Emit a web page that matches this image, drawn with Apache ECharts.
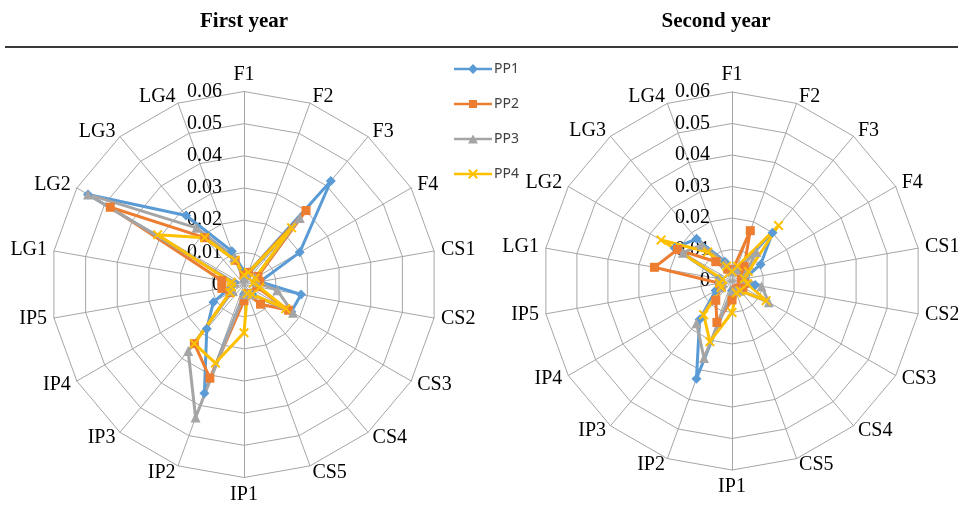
<!DOCTYPE html>
<html>
<head>
<meta charset="utf-8">
<script src="https://cdn.jsdelivr.net/npm/echarts@6/dist/echarts.min.js"></script>
<style>
html,body{margin:0;padding:0;background:#fff;}
#chart{width:958px;height:506px;}
</style>
</head>
<body>
<div id="chart"></div>
<script>
const categories = ['F1','F2','F3','F4','CS1','CS2','CS3','CS4','CS5','IP1','IP2','IP3','IP4','IP5','LG1','LG2','LG3','LG4'];
const seriesNames = ['PP1','PP2','PP3','PP4'];
const tickLabels = ['0','0.01','0.02','0.03','0.04','0.05','0.06'];
const titles = ['First year','Second year'];

// First year
const y1PP1 = [0.004,0.004,0.042,0.020,0.005,0.018,0.017,0.004,0.003,0.003,0.036,0.018,0.011,0.004,0.003,0.056,0.028,0.011];
const y1PP2 = [0.003,0.004,0.030,0.005,0.005,0.004,0.016,0.008,0.003,0.005,0.031,0.024,0.005,0.007,0.007,0.048,0.019,0.008];
const y1PP3 = [0.002,0.003,0.027,0.004,0.004,0.0105,0.0176,0.004,0.003,0.003,0.044,0.027,0.004,0.004,0.003,0.056,0.023,0.009];
const y1PP4 = [0.003,0.004,0.023,0.004,0.003,0.005,0.015,0.004,0.003,0.015,0.026,0.024,0.005,0.004,0.004,0.031,0.019,0.008];
// Second year
const y2PP1 = [0.003,0.004,0.020,0.0105,0.004,0.0075,0.004,0.003,0.003,0.003,0.033,0.016,0.006,0.004,0.004,0.021,0.0175,0.0065];
const y2PP2 = [0.003,0.017,0.006,0.004,0.003,0.004,0.004,0.003,0.003,0.006,0.014,0.008,0.004,0.004,0.025,0.020,0.008,0.004];
const y2PP3 = [0.003,0.004,0.012,0.005,0.004,0.0095,0.0135,0.004,0.003,0.003,0.026,0.0175,0.004,0.003,0.004,0.018,0.015,0.006];
const y2PP4 = [0.003,0.005,0.023,0.006,0.004,0.005,0.0125,0.004,0.004,0.010,0.0205,0.014,0.004,0.004,0.003,0.026,0.012,0.005];

const colors = ['#5B9BD5','#ED7D31','#A5A5A5','#FFC000'];
const xPath = 'path://M0,1.4L1.4,0L5,3.6L8.6,0L10,1.4L6.4,5L10,8.6L8.6,10L5,6.4L1.4,10L0,8.6L3.6,5Z';
const symbols = ['diamond','rect','triangle',xPath];
const symbolSizes = [10,9,10,10];
const legendIcons = [
  'path://M0,3.8H38V6.2H0Z M19,0L24,5L19,10L14,5Z',
  'path://M0,3.8H38V6.2H0Z M15,1H23V9H15Z',
  'path://M0,3.8H38V6.2H0Z M19,0.5L24,9.5H14Z',
  'path://M0,3.8H38V6.2H0Z M14,1.4L15.4,0L19,3.6L22.6,0L24,1.4L20.4,5L24,8.6L22.6,10L19,6.4L15.4,10L14,8.6L17.6,5Z'
];

const serif = '"Liberation Serif","Times New Roman",serif';

// ECharts places radar indicators counter-clockwise; reorder so they run clockwise.
const order = categories.map((_, i) => (i === 0 ? 0 : categories.length - i));
function clockwise(arr) { return order.map(i => arr[i]); }

function makeRadar(center, radius) {
  return {
    center: center,
    radius: radius,
    startAngle: 90,
    splitNumber: 6,
    shape: 'polygon',
    nameGap: 7,
    axisName: {color:'#000', fontFamily: serif, fontSize: 20},
    indicator: clockwise(categories).map((n, i) => {
      const o = {name: n, min: 0, max: 0.06};
      if (i !== 0) o.axisLabel = {show: false};
      return o;
    }),
    splitLine: {lineStyle: {color:'#A6A6A6', width: 1}},
    splitArea: {show: false},
    axisLine: {lineStyle: {color:'#A6A6A6', width: 1}},
    axisTick: {show: false},
    axisLabel: {
      show: true, color:'#000', fontFamily: serif, fontSize: 20, margin: 22,
      formatter: function (v) { return tickLabels[Math.round(v * 100)]; }
    }
  };
}

function makeSeries(radarIndex, arrays) {
  return {
    type: 'radar',
    radarIndex: radarIndex,
    data: arrays.map((arr, k) => ({
      name: seriesNames[k],
      value: clockwise(arr),
      symbol: symbols[k],
      symbolSize: symbolSizes[k],
      lineStyle: {color: colors[k], width: 3},
      itemStyle: {color: colors[k], borderWidth: 0}
    }))
  };
}

const chart = echarts.init(document.getElementById('chart'), null, {renderer: 'canvas'});
chart.setOption({
  animation: false,
  backgroundColor: '#fff',
  graphic: [
    {type:'text', x: 244, y: 22, style:{text: titles[0], align:'center', verticalAlign:'middle', font: 'bold 21px ' + serif, fill:'#000'}},
    {type:'text', x: 716, y: 22, style:{text: titles[1], align:'center', verticalAlign:'middle', font: 'bold 21px ' + serif, fill:'#000'}},
    {type:'line', shape:{x1: 5, y1: 47, x2: 958, y2: 47}, style:{stroke:'#3a3a3a', lineWidth: 2}}
  ],
  legend: {
    orient: 'vertical',
    left: 449,
    top: 57,
    itemWidth: 38,
    itemHeight: 10,
    itemGap: 21,
    textStyle: {fontFamily: '"Noto Sans","Open Sans",sans-serif', fontSize: 14, color: '#404040', padding: [0,0,0,-3]},
    data: seriesNames.map((n, k) => ({name: n, icon: legendIcons[k], itemStyle: {color: colors[k], borderWidth: 0}}))
  },
  radar: [makeRadar([244, 284.5], 193), makeRadar([732, 281], 189)],
  series: [
    makeSeries(0, [y1PP1, y1PP2, y1PP3, y1PP4]),
    makeSeries(1, [y2PP1, y2PP2, y2PP3, y2PP4])
  ]
});
</script>
</body>
</html>
